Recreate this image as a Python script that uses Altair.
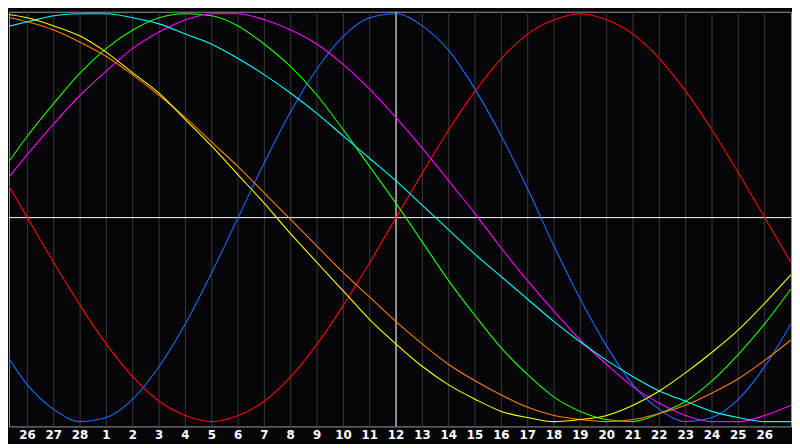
import altair as alt
import pandas as pd

# day index 0..30 along the x axis
days = list(range(31))
# calendar labels shown under grid lines 1..29
tick_days = list(range(1, 30))
tick_labels = ["26", "27", "28"] + [str(d) for d in range(1, 27)]

# values, -1 .. 1
physical = [-0.63, -0.82, -0.94, -1.00, -0.98, -0.89, -0.73, -0.52, -0.27, 0.00,
            0.27, 0.52, 0.73, 0.89, 0.98, 1.00, 0.94, 0.82, 0.63, 0.40,
            0.14, -0.14, -0.40, -0.63, -0.82, -0.94, -1.00, -0.98, -0.89, -0.73, -0.52]
emotional = [0.22, 0.00, -0.22, -0.43, -0.62, -0.78, -0.90, -0.97, -1.00, -0.97,
             -0.90, -0.78, -0.62, -0.43, -0.22, 0.00, 0.22, 0.43, 0.62, 0.78,
             0.90, 0.97, 1.00, 0.97, 0.90, 0.78, 0.62, 0.43, 0.22, 0.00, -0.22]
intellectual = [0.22, 0.40, 0.56, 0.71, 0.83, 0.92, 0.98, 1.00, 0.99, 0.94,
                0.85, 0.74, 0.60, 0.43, 0.25, 0.07, -0.12, -0.31, -0.48, -0.64,
                -0.77, -0.88, -0.95, -0.99, -1.00, -0.96, -0.90, -0.80, -0.67, -0.52, -0.35]
intuitive = [0.15, 0.31, 0.46, 0.60, 0.72, 0.83, 0.91, 0.97, 1.00, 1.00,
             0.97, 0.92, 0.85, 0.75, 0.63, 0.49, 0.34, 0.18, 0.02, -0.15,
             -0.31, -0.46, -0.60, -0.72, -0.83, -0.91, -0.97, -1.00, -1.00, -0.97, -0.92]
aesthetic = [1.00, 0.98, 0.94, 0.89, 0.81, 0.71, 0.61, 0.48, 0.35, 0.21,
             0.07, -0.08, -0.22, -0.36, -0.50, -0.62, -0.73, -0.82, -0.89, -0.95,
             -0.98, -1.00, -0.99, -0.97, -0.92, -0.85, -0.76, -0.66, -0.55, -0.42, -0.28]
awareness = [0.99, 0.96, 0.92, 0.86, 0.79, 0.70, 0.60, 0.49, 0.37, 0.25,
             0.12, -0.01, -0.14, -0.27, -0.39, -0.51, -0.62, -0.72, -0.80, -0.87,
             -0.93, -0.97, -0.99, -1.00, -0.99, -0.96, -0.92, -0.86, -0.79, -0.70, -0.60]
spiritual = [0.93, 0.96, 0.99, 1.00, 1.00, 0.98, 0.95, 0.90, 0.85, 0.78,
             0.70, 0.61, 0.51, 0.40, 0.29, 0.18, 0.06, -0.06, -0.18, -0.29,
             -0.40, -0.51, -0.61, -0.70, -0.78, -0.85, -0.90, -0.95, -0.98, -1.00, -1.00]

series = {
    "physical": physical,
    "emotional": emotional,
    "intellectual": intellectual,
    "intuitive": intuitive,
    "spiritual": spiritual,
    "awareness": awareness,
    "aesthetic": aesthetic,
}
colors = ["#1a6bff", "#ff0000", "#1aff00", "#ff00ff", "#00ffff", "#ff7f00", "#ffff00"]

rows = []
for name, vals in series.items():
    for d, v in zip(days, vals):
        rows.append({"day": d, "value": v, "cycle": name})
df = pd.DataFrame(rows)
ticks = pd.DataFrame({"day": tick_days, "label": tick_labels})

x_scale = alt.Scale(domain=[0.3, 30], nice=False, zero=False)
y_scale = alt.Scale(domain=[-1.0238, 1.0095], nice=False, zero=False)

grid = alt.Chart(ticks).mark_rule(color="#3a3a3a", strokeWidth=1).encode(
    x=alt.X("day:Q", scale=x_scale, axis=None),
)

labels = alt.Chart(ticks).mark_text(
    color="#ffffff", font="DejaVu Sans", fontWeight="bold", fontSize=12,
    baseline="top", align="center",
).encode(
    x=alt.X("day:Q", scale=x_scale, axis=None),
    y=alt.value(424),
    text="label:N",
)

lines = alt.Chart(df).mark_line(strokeWidth=1.1, clip=True, interpolate="monotone").encode(
    x=alt.X("day:Q", scale=x_scale, axis=None),
    y=alt.Y("value:Q", scale=y_scale, axis=None),
    color=alt.Color("cycle:N", scale=alt.Scale(domain=list(series.keys()), range=colors), legend=None),
)

center = alt.Chart(pd.DataFrame({"day": [15]})).mark_rule(
    color="#ffffff", strokeWidth=1
).encode(x=alt.X("day:Q", scale=x_scale, axis=None))
zero = alt.Chart(pd.DataFrame({"value": [0]})).mark_rule(
    color="#ffffff", strokeWidth=1
).encode(y=alt.Y("value:Q", scale=y_scale, axis=None))

chart = alt.layer(grid, center, zero, lines, labels).properties(
    width=792,
    height=420,
    padding=0,
    background="#050508",
).configure_view(
    fill="#050508",
    stroke="#9a9a9a",
    strokeWidth=1,
)

chart.save("out.html", embed_options={"renderer": "svg", "actions": False})
